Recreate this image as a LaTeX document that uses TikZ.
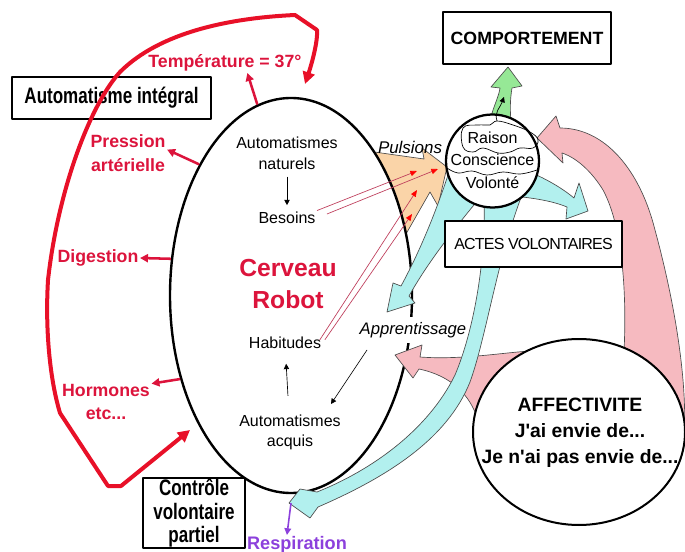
\documentclass[tikz,border=0pt]{standalone}
\usepackage{fontspec}
\setmainfont{Liberation Sans}
\newfontfamily\condfont[FakeStretch=0.76]{Liberation Sans}
\newfontfamily\plainfont{Liberation Sans}
\usetikzlibrary{positioning,shapes.geometric,arrows.meta}
\definecolor{robotred}{RGB}{220,20,60}
\definecolor{loopred}{RGB}{232,16,40}
\definecolor{pulsion}{RGB}{250,212,168}
\definecolor{actecyan}{RGB}{178,240,238}
\definecolor{affpink}{RGB}{246,186,192}
\definecolor{comportgreen}{RGB}{150,232,150}
\definecolor{souffle}{RGB}{140,64,220}

\begin{document}
\begin{tikzpicture}[x=0.75pt, y=-0.75pt, >={Triangle[length=6pt,width=6pt]}, line join=round]
\tikzstyle{box}=[draw, fill=white, rectangle, align=center, inner sep=0pt, line width=0.8pt]
\tikzstyle{condbox}=[box, font=\condfont\bfseries\fontsize{16.8}{17.6}\selectfont]
\tikzstyle{redlabel}=[text=robotred, align=center, inner sep=1pt, font=\bfseries\fontsize{13.3}{17.5}\selectfont]
\tikzstyle{redarrow}=[->, robotred, line width=1.9pt]
\tikzstyle{inner}=[align=center, inner sep=1pt, font=\fontsize{12}{15.5}\selectfont]
\tikzstyle{thinarrow}=[->, line width=0.5pt, >={Triangle[length=4pt,width=4pt]}]
\tikzstyle{pulse}=[-{Triangle[length=5pt,width=4pt,color=red]}, draw={rgb,255:red,190;green,60;blue,90}, line width=0.5pt]
\tikzstyle{fatarrow}=[draw=black!70, line width=0.5pt]
\useasboundingbox (0,0) rectangle (685,552);

% pulsions
\fill[pulsion, fatarrow] (360,150) -- (424,159) -- (422,148) -- (447,167) -- (438,206) -- (430,192) -- (398,248) -- cycle;

% cerveau robot
\node[ellipse, draw, fill=white, line width=1.8pt, minimum width=181.5pt, minimum height=296.25pt, inner sep=0pt] (brain) at (291,295.5) {};
\node[font=\itshape\fontsize{12.5}{14}\selectfont, fill=white, inner xsep=1pt, inner ysep=4pt] (appr) at (413,330) {Apprentissage};
\node[font=\itshape\fontsize{12.7}{14}\selectfont, inner sep=1pt] (puls) at (410,147) {Pulsions};

% affectivite
\fill[affpink, fatarrow] (537,138) -- (556,116) -- (560,128) .. controls (605,128) and (640,170) .. (655,230) .. controls (674,300) and (688,380) .. (684,440) -- (640,430) -- (624,352) .. controls (627,290) and (622,225) .. (603,190) .. controls (592,172) and (577,158) .. (562,153) -- (563,163) -- cycle;
\fill[affpink, fatarrow] (395,355) -- (422,345) -- (420,357) .. controls (460,360) and (500,353) .. (530,351) -- (560,410) -- (478,420) .. controls (470,395) and (452,376) .. (419,369) -- (413,378) -- cycle;

% actes volontaires
\fill[actecyan, fatarrow] (449,172) .. controls (435,215) and (418,255) .. (401,286) -- (393,283) -- (387,312) -- (415,303) -- (409,296) .. controls (428,262) and (455,228) .. (478,200) -- (470,175) -- cycle;
\fill[actecyan, fatarrow] (484,200) .. controls (486,260) and (474,330) .. (455,375) .. controls (428,430) and (372,470) .. (317,492) -- (300,489) -- (289,503) -- (310,518) -- (318,507) .. controls (385,478) and (447,440) .. (470,382) .. controls (486,338) and (497,260) .. (522,195) -- (505,180) -- cycle;
\fill[actecyan, fatarrow] (525,170) .. controls (545,178) and (562,188) .. (574,198) -- (579,183) -- (588,211) -- (566,219) -- (567,207) .. controls (550,200) and (530,198) .. (515,196) -- cycle;
\fill[comportgreen, fatarrow] (490,120) .. controls (494,105) and (499,96) .. (500,88) -- (491,87) -- (508,67) -- (522,86) -- (512,88) .. controls (510,100) and (510,110) .. (511,122) -- cycle;

% raison conscience volonte
\node[circle, draw, fill=white, line width=1.7pt, minimum size=69.75pt, inner sep=0pt] (reason) at (492.5,161) {};
\draw[line width=0.5pt] plot[smooth cycle, tension=0.7] coordinates {(463,128) (478,125) (490,125) (497,121) (513,125) (530,132) (538,140) (533,148) (520,148) (510,152) (498,153) (483,148) (473,152) (463,147)};
\draw[line width=0.5pt] plot[smooth, tension=0.7] coordinates {(447,168) (458,173) (472,171) (487,175) (503,172) (520,174) (537,170)};
\coordinate (wish) at (504,97);
\draw[thinarrow] (497,121) .. controls (494,112) and (500,108) .. (wish);
\node[inner] (raison) at (492.5,138) {Raison};
\node[inner] (consc) at (492.5,160) {Conscience};
\node[inner] (volon) at (492.5,183) {Volonté};

\node[box, minimum width=132.75pt, minimum height=34.5pt, font=\fontsize{12}{13}\selectfont\addfontfeature{LetterSpace=-5}] (actes) at (533.5,244) {ACTES VOLONTAIRES};
\node[box, minimum width=126pt, minimum height=39pt, font=\bfseries\fontsize{13.3}{15}\selectfont] (comport) at (527,38) {COMPORTEMENT};
\node[ellipse, draw, fill=white, line width=1.5pt, minimum width=159pt, minimum height=139.5pt, inner sep=0pt] (affect) at (579,432) {};
\node[align=center, font=\plainfont\bfseries\fontsize{14.5}{19.5}\selectfont] (afftext) at (580,433) {AFFECTIVITE\\J'ai envie de...\\Je n'ai pas envie de...};

% contenu du cerveau
\node[inner] (natur) at (287,153.5) {Automatismes\\naturels};
\node[inner] (besoins) at (287,218) {Besoins};
\node[text=robotred, align=center, font=\bfseries\fontsize{18.5}{24}\selectfont] (robot) at (288,284) {Cerveau\\Robot};
\node[inner] (habit) at (285,343) {Habitudes};
\node[inner] (acqa) at (290,432.5) {Automatismes\\acquis};
\draw[thinarrow, shorten <=4pt, shorten >=4pt] (natur) -- (besoins);
\draw[thinarrow, shorten <=13pt, shorten >=10pt] (acqa) -- (habit);
\coordinate (apprfoot) at (367,350);
\coordinate (acqfoot) at (331,404);
\draw[thinarrow] (apprfoot) -- (acqfoot);

\coordinate (pb1) at (417,171);
\coordinate (pb2) at (438,169);
\coordinate (ph1) at (417,190);
\coordinate (ph2) at (412,214);
\draw[pulse] (besoins.north east) -- (pb1);
\draw[pulse, shorten <=8pt] (besoins.east) -- (pb2);
\draw[pulse, shorten <=-4pt] (habit.north east) -- (ph1);
\draw[pulse, shorten <=3pt] (habit.east) -- (ph2);

% automatisme integral
\node[condbox, minimum width=149.25pt, minimum height=31.5pt] (autint) at (111.5,98) {Automatisme intégral};
\node[condbox, minimum width=76.5pt, minimum height=52.5pt] (controle) at (194,513) {Contrôle\\volontaire\\partiel};
\node[redlabel] (temp) at (225,63) {Température = 37°};
\node[redlabel] (press) at (128,153) {Pression\\artérielle};
\node[redlabel] (digest) at (98,258) {Digestion};
\node[redlabel] (horm) at (106,402) {Hormones\\etc...};
\draw[redarrow] (brain.100) -- (temp.-24);
\draw[redarrow] (brain.125) -- (press.5);
\draw[redarrow] (brain.163) -- (digest.east);
\draw[redarrow] (brain.217) -- (horm.22);

\coordinate (loopout) at (305,84);
\coordinate (loopin) at (190,430);
\draw[<->, loopred, line width=3pt, >={Triangle[length=9pt,width=9pt]}] (loopout) .. controls (311,66) and (318,42) .. (317,30) -- (295,15) .. controls (230,18) and (160,32) .. (120,72) .. controls (90,105) and (58,190) .. (48,280) .. controls (45,330) and (50,380) .. (60,413) -- (108,486) -- (121,486) -- (loopin);

% respiration
\node[text=souffle, font=\bfseries\fontsize{13.6}{15}\selectfont, inner sep=1pt] (resp) at (297,545) {Respiration};
\coordinate (breath) at (291,503);
\draw[->, souffle, line width=1.2pt, >={Triangle[length=5pt,width=5pt]}] (breath) -- (resp.135);
\end{tikzpicture}
\end{document}
